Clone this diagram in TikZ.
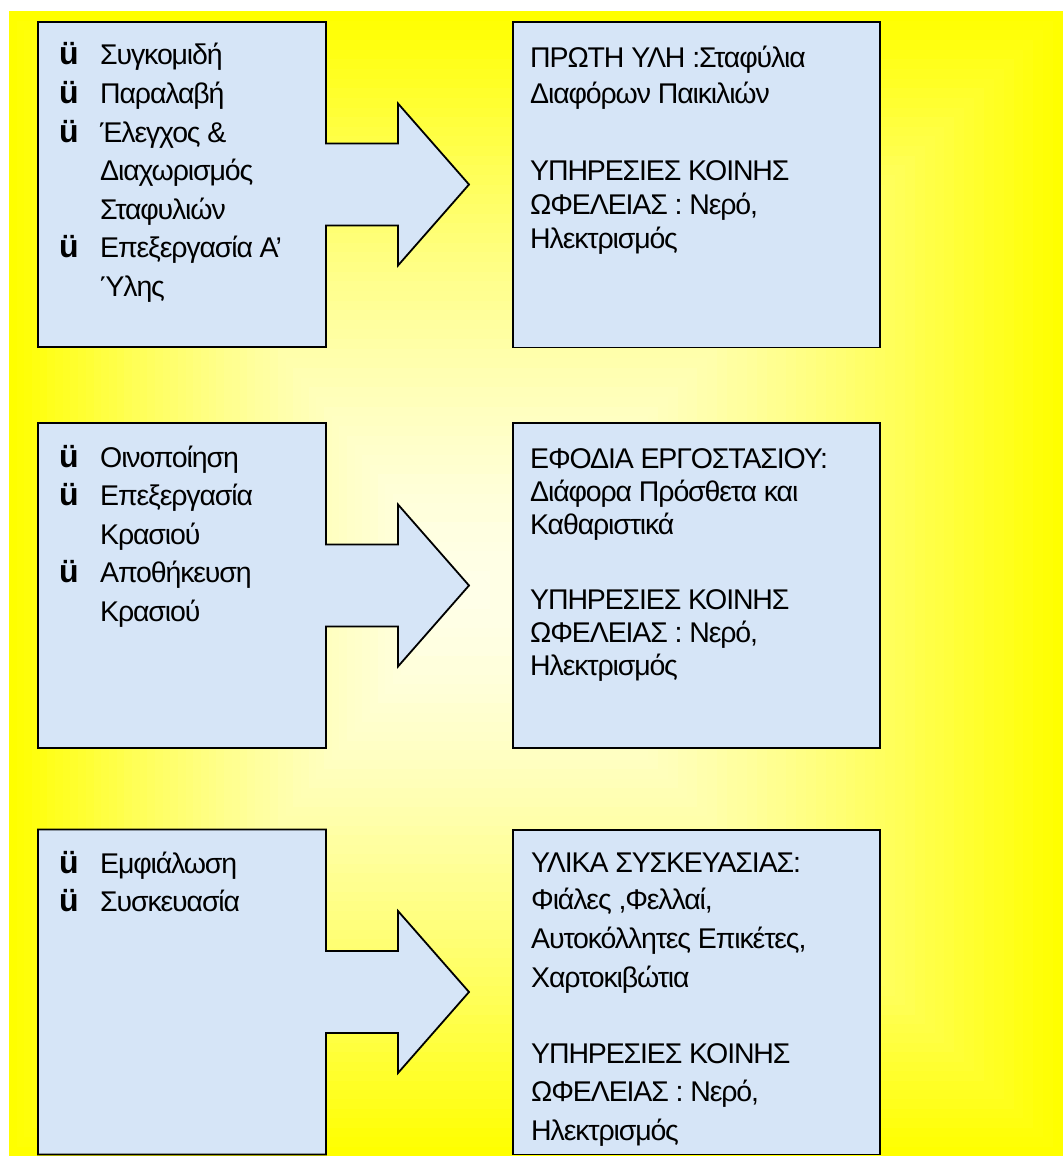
\documentclass[tikz,border=0pt]{standalone}
\usepackage{fontspec}
\setmainfont{Liberation Sans}[LetterSpace=-4]
\newfontfamily\bulfont{Liberation Sans}
\definecolor{pale}{HTML}{FFFFEA}
\definecolor{yellowbg}{HTML}{FFFF00}
\definecolor{boxblue}{HTML}{D6E5F7}
\tikzset{
  panel/.style={fill=boxblue, draw=black, line width=1.8pt, line join=miter},
  txt/.style={anchor=base west, inner sep=0pt, font=\fontsize{28.5}{30}\selectfont},
  bul/.style={anchor=base west, inner sep=0pt, font=\bulfont\fontsize{32}{30}\selectfont\bfseries},
}
\newcommand\mycallout[1]{%
  \draw[panel] (38,{#1-162.5}) -- (326,{#1-162.5}) -- (326,{#1-41}) -- (398,{#1-41})
    -- (398,{#1-81}) -- (469,#1) -- (398,{#1+81}) -- (398,{#1+41}) -- (326,{#1+41})
    -- (326,{#1+162.5}) -- (38,{#1+162.5}) -- cycle;}
\begin{document}
\begin{tikzpicture}[x=1pt,y=-1pt]
\useasboundingbox (0,0) rectangle (1063,1156);
\fill[white] (0,0) rectangle (1063,1156);
% background rectangular gradient
\foreach \i in {60,59,...,1}{
  \pgfmathsetmacro\t{\i/60}
  \pgfmathtruncatemacro\f{100*(1-pow(\t,1.5))}
  \fill[pale!\f!yellowbg] ({470-\t*461},{590-\t*579}) rectangle ({470+\t*593},{590+\t*566});
}
% callouts
\mycallout{184.5}
\mycallout{585.5}
\mycallout{992}
% right boxes
\draw[panel] (513,22) rectangle (880,347.5);
\draw[panel] (513,423) rectangle (880,748);
\draw[panel] (513,830) rectangle (880,1154.5);

% left box 1
\node[bul] (b1a) at (59,65) {ü};
\node[txt] (t1a) at (100,65) {Συγκομιδή};
\node[bul] (b1b) at (59,103.5) {ü};
\node[txt] (t1b) at (100,103.5) {Παραλαβή};
\node[bul] (b1c) at (59,142) {ü};
\node[txt] (t1c) at (100,142) {Έλεγχος \&};
\node[txt] (t1d) at (100,180.5) {Διαχωρισμός};
\node[txt] (t1e) at (100,219) {Σταφυλιών};
\node[bul] (b1f) at (59,257.5) {ü};
\node[txt] (t1f) at (100,257.5) {Επεξεργασία Α’};
\node[txt] (t1g) at (100,296) {Ύλης};

% left box 2
\node[bul] (b2a) at (59,467) {ü};
\node[txt] (t2a) at (100,467) {Οινοποίηση};
\node[bul] (b2b) at (59,505.5) {ü};
\node[txt] (t2b) at (100,505.5) {Επεξεργασία};
\node[txt] (t2c) at (100,544) {Κρασιού};
\node[bul] (b2d) at (59,582.5) {ü};
\node[txt] (t2d) at (100,582.5) {Αποθήκευση};
\node[txt] (t2e) at (100,621) {Κρασιού};

% left box 3
\node[bul] (b3a) at (59,873) {ü};
\node[txt] (t3a) at (100,873) {Εμφιάλωση};
\node[bul] (b3b) at (59,911.5) {ü};
\node[txt] (t3b) at (100,911.5) {Συσκευασία};

% right box 1
\node[txt] (r1a) at (530,67) {ΠΡΩΤΗ ΥΛΗ :Σταφύλια};
\node[txt] (r1b) at (530,103) {Διαφόρων Παικιλιών};
\node[txt] (r1c) at (530,180) {ΥΠΗΡΕΣΙΕΣ ΚΟΙΝΗΣ};
\node[txt] (r1d) at (530,214) {ΩΦΕΛΕΙΑΣ : Νερό,};
\node[txt] (r1e) at (530,248) {Ηλεκτρισμός};

% right box 2
\node[txt] (r2a) at (530,468) {ΕΦΟΔΙΑ ΕΡΓΟΣΤΑΣΙΟΥ:};
\node[txt] (r2b) at (530,501) {Διάφορα Πρόσθετα και};
\node[txt] (r2c) at (530,534) {Καθαριστικά};
\node[txt] (r2d) at (530,609) {ΥΠΗΡΕΣΙΕΣ ΚΟΙΝΗΣ};
\node[txt] (r2e) at (530,642) {ΩΦΕΛΕΙΑΣ : Νερό,};
\node[txt] (r2f) at (530,675) {Ηλεκτρισμός};

% right box 3
\node[txt] (r3a) at (531,872) {ΥΛΙΚΑ ΣΥΣΚΕΥΑΣΙΑΣ:};
\node[txt] (r3b) at (531,909) {Φιάλες ,Φελλαί,};
\node[txt] (r3c) at (531,948) {Αυτοκόλλητες Επικέτες,};
\node[txt] (r3d) at (531,987) {Χαρτοκιβώτια};
\node[txt] (r3e) at (531,1063) {ΥΠΗΡΕΣΙΕΣ ΚΟΙΝΗΣ};
\node[txt] (r3f) at (531,1101) {ΩΦΕΛΕΙΑΣ : Νερό,};
\node[txt] (r3g) at (531,1140) {Ηλεκτρισμός};
\end{tikzpicture}
\end{document}
